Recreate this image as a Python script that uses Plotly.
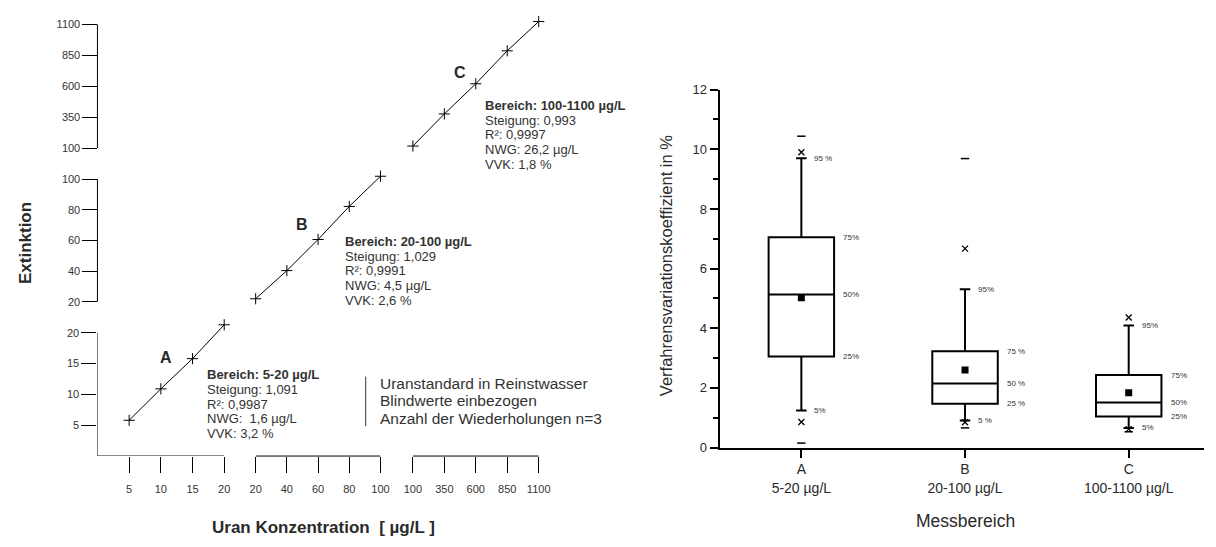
import plotly.graph_objects as go

# ---------------------------------------------------------------
# Data: calibration lines (Extinktion vs. Uran-Konzentration)
# ---------------------------------------------------------------
conc_A = [5, 10, 15, 20]
ext_A = [5.8, 10.9, 15.8, 21.3]
conc_B = [20, 40, 60, 80, 100]
ext_B = [21.9, 40.3, 60.6, 82.2, 101.9]
conc_C = [100, 350, 600, 850, 1100]
ext_C = [116, 376, 620, 887, 1124]

xticks_A = [5, 10, 15, 20]
xticks_B = [20, 40, 60, 80, 100]
xticks_C = [100, 350, 600, 850, 1100]
yticks_A = [5, 10, 15, 20]
yticks_B = [20, 40, 60, 80, 100]
yticks_C = [100, 350, 600, 850, 1100]

stats_A = ["<b>Bereich: 5-20 µg/L</b>", "Steigung: 1,091", "R²: 0,9987",
           "NWG:\u00a0 1,6 µg/L", "VVK: 3,2 %"]
stats_B = ["<b>Bereich: 20-100 µg/L</b>", "Steigung: 1,029", "R²: 0,9991",
           "NWG: 4,5 µg/L", "VVK: 2,6 %"]
stats_C = ["<b>Bereich: 100-1100 µg/L</b>", "Steigung: 0,993", "R²: 0,9997",
           "NWG: 26,2 µg/L", "VVK: 1,8 %"]
notes = ["Uranstandard in Reinstwasser", "Blindwerte einbezogen",
         "Anzahl der Wiederholungen n=3"]

# ---------------------------------------------------------------
# Data: Verfahrensvariationskoeffizient per Messbereich
# ---------------------------------------------------------------
cats = ["A", "B", "C"]
cat_labels = ["A<br>5-20 µg/L", "B<br>20-100 µg/L", "C<br>100-1100 µg/L"]
p5 = [1.24, 0.91, 0.66]
q1 = [3.05, 1.47, 1.04]
median = [5.13, 2.15, 1.51]
q3 = [7.05, 3.23, 2.43]
p95 = [9.70, 5.31, 4.09]
mean = [5.02, 2.60, 1.84]
p1 = [0.86, 0.85, 0.62]
p99 = [9.90, 6.67, 4.36]
vmin = [0.15, 0.66, 0.53]
vmax = [10.44, 9.69, None]
lbl_p95 = ["95 %", "95%", "95%"]
lbl_q3 = ["75%", "75 %", "75%"]
lbl_med = ["50%", "50 %", "50%"]
lbl_q1 = ["25%", "25 %", "25%"]
lbl_p5 = ["5%", "5 %", "5%"]

# ---------------------------------------------------------------
W, H = 1216, 547


def fx(px):
    return px / W


def fy(py):
    return 1 - py / H


FONT = "Arial"
TXT = "#2a2a2a"
X_AXIS_Y = 461.7   # pixel row of the broken concentration axis
Y_AXIS_X = 90      # pixel column of the broken extinction axis

fig = go.Figure()

# calibration segments
for xs, ys, xa, ya in [(conc_A, ext_A, "x", "y"),
                       (conc_B, ext_B, "x2", "y2"),
                       (conc_C, ext_C, "x3", "y3")]:
    fig.add_trace(go.Scatter(
        x=xs, y=ys, xaxis=xa, yaxis=ya, mode="lines+markers",
        line=dict(color="black", width=1),
        marker=dict(symbol="cross-thin", size=8, line=dict(color="black", width=1)),
        cliponaxis=False, hoverinfo="skip", showlegend=False))

# box plots
fig.add_trace(go.Box(
    x=cats, q1=q1, median=median, q3=q3, lowerfence=p5, upperfence=p95,
    xaxis="x4", yaxis="y4", width=0.4, whiskerwidth=0.16,
    line=dict(color="black", width=2), fillcolor="white",
    boxpoints=False, hoverinfo="skip", showlegend=False))
fig.add_trace(go.Scatter(
    x=cats, y=mean, xaxis="x4", yaxis="y4", mode="markers",
    marker=dict(symbol="square", size=7, color="black"),
    hoverinfo="skip", showlegend=False))
fig.add_trace(go.Scatter(
    x=cats + cats, y=vmin + vmax, xaxis="x4", yaxis="y4", mode="markers",
    marker=dict(symbol="line-ew", size=6, line=dict(color="black", width=1.5)),
    cliponaxis=False, hoverinfo="skip", showlegend=False))
fig.add_trace(go.Scatter(
    x=cats + cats, y=p1 + p99, xaxis="x4", yaxis="y4", mode="markers",
    marker=dict(symbol="x-thin", size=6, line=dict(color="black", width=1.3)),
    cliponaxis=False, hoverinfo="skip", showlegend=False))

left_common = dict(showgrid=False, zeroline=False, showline=False,
                   ticks="outside", tickwidth=1, tickcolor="black",
                   tickmode="array",
                   tickfont=dict(family=FONT, size=11, color="#333"))
xl = dict(left_common, ticklen=16, ticklabelstandoff=7)
yl = dict(left_common, ticklen=15)

fig.update_layout(
    width=W, height=H, margin=dict(l=0, r=0, t=0, b=0),
    paper_bgcolor="white", plot_bgcolor="rgba(0,0,0,0)",
    font=dict(family=FONT, color=TXT), showlegend=False,
    xaxis=dict(xl, domain=[fx(90), fx(219)], range=[0, 20], anchor="y",
               tickvals=xticks_A),
    yaxis=dict(yl, domain=[fy(X_AXIS_Y), fy(322.3)], range=[0, 22], anchor="x",
               tickvals=yticks_A),
    xaxis2=dict(xl, domain=[fx(251), fx(378)], range=[20, 100], anchor="free",
                position=fy(X_AXIS_Y), tickvals=xticks_B),
    yaxis2=dict(yl, domain=[fy(303), fy(170.7)], range=[20, 104], anchor="free",
                position=fx(Y_AXIS_X), tickvals=yticks_B),
    xaxis3=dict(xl, domain=[fx(411), fx(539)], range=[100, 1100], anchor="free",
                position=fy(X_AXIS_Y), tickvals=xticks_C),
    yaxis3=dict(yl, domain=[fy(145), fy(11.65)], range=[100, 1150], anchor="free",
                position=fx(Y_AXIS_X), tickvals=yticks_C),
    xaxis4=dict(domain=[fx(723), 1], type="category", categoryorder="array",
                categoryarray=cats, range=[-0.5, 2.46], anchor="y4",
                showline=True, linewidth=2, linecolor="black", showgrid=False,
                zeroline=False, ticks="outside", ticklen=8, tickwidth=2,
                tickcolor="black", tickmode="array", tickvals=cats,
                ticktext=cat_labels, tickfont=dict(family=FONT, size=14, color=TXT)),
    yaxis4=dict(domain=[fy(453), fy(85)], range=[0, 12], anchor="x4",
                showline=True, linewidth=2, linecolor="black", showgrid=False,
                zeroline=False, ticks="outside", ticklen=8, tickwidth=2,
                tickcolor="black", tick0=0, dtick=2,
                minor=dict(ticks="outside", ticklen=5, tickwidth=1.5,
                           tickcolor="black", dtick=1),
                tickfont=dict(family=FONT, size=13, color=TXT)),
)

# axis spines of the broken axes
shapes = []
line = dict(color="black", width=1)
shapes.append(dict(type="line", xref="x", yref="y", x0=0, x1=0,
                   y0=0, y1=max(yticks_A), line=line))
shapes.append(dict(type="line", xref="x", yref="y", x0=0, x1=max(xticks_A),
                   y0=0, y1=0, line=line))
for xr, yr, xt, yt in [("x2", "y2", xticks_B, yticks_B),
                       ("x3", "y3", xticks_C, yticks_C)]:
    shapes.append(dict(type="line", xref="paper", yref=yr,
                       x0=fx(Y_AXIS_X), x1=fx(Y_AXIS_X),
                       y0=min(yt), y1=max(yt), line=line))
    shapes.append(dict(type="line", xref=xr, yref="paper",
                       x0=min(xt), x1=max(xt),
                       y0=fy(X_AXIS_Y), y1=fy(X_AXIS_Y), line=line))
shapes.append(dict(type="line", xref="paper", yref="paper",
                   x0=fx(363), x1=fx(363), y0=fy(380), y1=fy(431),
                   line=dict(color="#333", width=1)))
fig.update_layout(shapes=shapes)

ann = []


def text(px, py, s, size, bold=False, anchor="left", angle=0, color=TXT):
    ann.append(dict(xref="paper", yref="paper", x=fx(px), y=fy(py),
                    text=f"<b>{s}</b>" if bold else s, showarrow=False,
                    xanchor=anchor, yanchor="middle", textangle=angle,
                    font=dict(family=FONT, size=size, color=color)))


# segment letters
text(160, 360, "A", 16, bold=True, anchor="center")
text(298, 224, "B", 16, bold=True, anchor="center")
text(459, 67, "C", 16, bold=True, anchor="center")

# regression statistics
for lines, x0, y0 in [(stats_A, 199, 378), (stats_B, 340, 241), (stats_C, 482, 101)]:
    for i, s in enumerate(lines):
        text(x0, y0 + i * 15.2, s, 13, color="#333")

for i, s in enumerate(notes):
    text(375, 387 + i * 18, s, 15.5, color="#333")

# axis titles
text(17, 243, "Extinktion", 17, bold=True, anchor="center", angle=-90)
text(320, 535, "Uran Konzentration\u00a0 [ µg/L ]", 17, bold=True, anchor="center")
text(668, 266, "Verfahrensvariationskoeffizient in %", 16.5, anchor="center", angle=-90)
text(973, 529, "Messbereich", 17.5, anchor="center")

# percentile labels beside the boxes
for i, c in enumerate(cats):
    for val, lab, shift in [(p95[i], lbl_p95[i], 11), (p5[i], lbl_p5[i], 11),
                            (q3[i], lbl_q3[i], 40), (median[i], lbl_med[i], 40),
                            (q1[i], lbl_q1[i], 40)]:
        ann.append(dict(xref="x4", yref="y4", x=c, y=val, text=lab,
                        showarrow=False, xanchor="left", yanchor="middle",
                        xshift=shift, font=dict(family=FONT, size=8, color="#333")))

fig.update_layout(annotations=ann)

fig.write_html("out.html")
